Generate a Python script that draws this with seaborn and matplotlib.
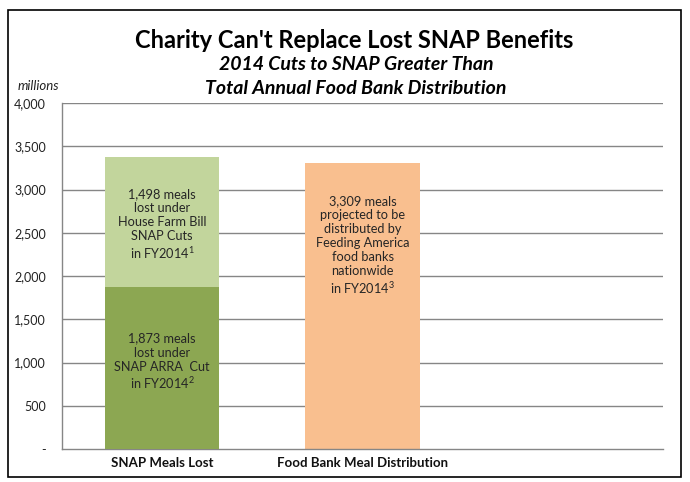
import matplotlib
matplotlib.use("Agg")
import matplotlib.pyplot as plt
import seaborn as sns
import pandas as pd
from matplotlib.patches import Rectangle

# ---- data ----
categories = ["SNAP Meals Lost", "Food Bank Meal Distribution", ""]
arra_cut = [1873, 0]           # SNAP ARRA cut (bottom segment)
farm_bill_cut = [1498, 0]      # House Farm Bill SNAP cuts (top segment)
food_bank = [0, 3309]          # Feeding America distribution
yticks = [0, 500, 1000, 1500, 2000, 2500, 3000, 3500, 4000]

labels_top = "1,498 meals\nlost under\nHouse Farm Bill\nSNAP Cuts\nin FY2014$^{1}$"
labels_bottom = "1,873 meals\nlost under\nSNAP ARRA  Cut\nin FY2014$^{2}$"
labels_bank = "3,309 meals\nprojected to be\ndistributed by\nFeeding America\nfood banks\nnationwide\nin FY2014$^{3}$"

sns.set_theme(style="white")
plt.rcParams['font.family'] = ['Lato', 'DejaVu Sans']
plt.rcParams['mathtext.fontset'] = 'custom'
plt.rcParams['mathtext.rm'] = 'Lato'
plt.rcParams['mathtext.it'] = 'Lato:italic'
plt.rcParams['mathtext.bf'] = 'Lato:bold'
plt.rcParams['mathtext.default'] = 'rm'

totals = [a + b + c for a, b, c in zip(arra_cut, farm_bill_cut, food_bank)]
df_tot = pd.DataFrame({"cat": categories[:2], "val": totals})
df_bot = pd.DataFrame({"cat": categories[:2], "val": arra_cut})

fig = plt.figure(figsize=(6.9, 4.82), dpi=100)
ax = fig.add_axes([62/690, 33/482, 601/690, 346/482])

sns.barplot(data=df_tot, x="cat", y="val", order=categories, hue="cat",
            palette={categories[0]: "#C2D59C", categories[1]: "#F9BF8F"},
            width=0.57, ax=ax, legend=False, zorder=2, saturation=1,
            linewidth=0, edgecolor="none")
sns.barplot(data=df_bot, x="cat", y="val", order=categories, hue="cat",
            palette={categories[0]: "#8CA752", categories[1]: "#F9BF8F"},
            width=0.57, ax=ax, legend=False, zorder=3, saturation=1,
            linewidth=0, edgecolor="none")

ax.set_xlim(-0.5, 2.5)
ax.set_ylim(0, 4000)
ax.set_yticks(yticks)
ax.set_yticklabels(["-" if v == 0 else f"{v:,}" for v in yticks], fontsize=9, color="#222222")
ax.set_xticks([0, 1])
ax.set_xticklabels(categories[:2], fontsize=9.5, fontweight="bold", color="#111111")
ax.tick_params(axis="y", length=0, pad=11.5)
ax.tick_params(axis="x", length=0, pad=6)
ax.set_xlabel("")
ax.set_ylabel("")
for y in yticks[1:]:
    ax.axhline(y, color="#868686", lw=1, zorder=1)
for s in ["top", "right"]:
    ax.spines[s].set_visible(False)
for s in ["left", "bottom"]:
    ax.spines[s].set_color("#868686")
    ax.spines[s].set_linewidth(1)

# in-bar annotations
txt_kw = dict(ha="center", va="center", fontsize=9.2, color="#262626", linespacing=1.2, zorder=5)
ax.text(0, arra_cut[0] + farm_bill_cut[0] / 2 - 30, labels_top, **txt_kw)
ax.text(0, arra_cut[0] / 2 + 70, labels_bottom, **txt_kw)
ax.text(1, food_bank[1] * 0.71, labels_bank, **txt_kw)

# titles
fig.text(354/690, 1 - 40/482, "Charity Can't Replace Lost SNAP Benefits", ha="center", va="center",
         fontsize=17, fontweight="bold", color="black")
fig.text(356/690, 1 - 65/482, "2014 Cuts to SNAP Greater Than", ha="center", va="center",
         fontsize=14, fontweight="bold", style="italic", color="black")
fig.text(356/690, 1 - 89/482, "Total Annual Food Bank Distribution", ha="center", va="center",
         fontsize=14, fontweight="bold", style="italic", color="black")
fig.text(38/690, 1 - 86/482, "millions", ha="center", va="center", fontsize=9.5, style="italic", color="#222222")

# outer border
fig.patches.append(Rectangle((8/690, 5/482), 673/690, 467/482, transform=fig.transFigure,
                             fill=False, edgecolor="black", lw=1.2))

fig.savefig("out.png", dpi=100)
